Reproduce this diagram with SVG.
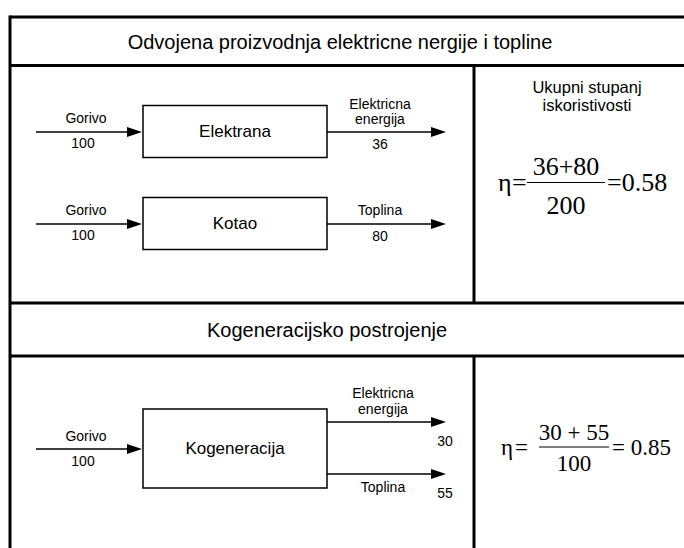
<svg xmlns="http://www.w3.org/2000/svg" width="684" height="548" viewBox="0 0 684 548">
<style>
.frame{stroke:#000;stroke-width:3;fill:none}
.box{stroke:#000;stroke-width:1.5;fill:#fff}
.conn{stroke:#000;stroke-width:1.5;fill:none}
.s{font-family:"Liberation Sans",Arial,sans-serif;font-size:14px;fill:#000}
.u{font-family:"Liberation Sans",Arial,sans-serif;font-size:16.5px;fill:#000;text-anchor:middle}
.m{font-family:"Liberation Sans",Arial,sans-serif;font-size:17px;fill:#000;text-anchor:middle}
.h{font-family:"Liberation Sans",Arial,sans-serif;font-size:20px;fill:#000;text-anchor:middle}
.f1{font-family:"Liberation Serif","Times New Roman",serif;font-size:26px;fill:#000}
.f2{font-family:"Liberation Serif","Times New Roman",serif;font-size:23px;fill:#000}
.c{text-anchor:middle}
</style>
<defs>
<marker id="arr" markerUnits="userSpaceOnUse" markerWidth="16" markerHeight="12" refX="0" refY="5" orient="auto" overflow="visible">
<path d="M0,0 L15,5 L0,10 Z" fill="#000"/>
</marker>
</defs>
<rect width="684" height="548" fill="#fff"/>
<g id="frame">
<line class="frame" x1="10" y1="17" x2="684" y2="17"/>
<line class="frame" x1="10" y1="15.5" x2="10" y2="548"/>
<line class="frame" x1="10" y1="65.5" x2="684" y2="65.5"/>
<line class="frame" x1="10" y1="303" x2="684" y2="303"/>
<line class="frame" x1="10" y1="356" x2="684" y2="356"/>
<line class="frame" x1="474" y1="65.5" x2="474" y2="303"/>
<line class="frame" x1="474" y1="356" x2="474" y2="548"/>
<text class="h" x="340" y="49">Odvojena proizvodnja elektricne nergije i topline</text>
<text class="h" x="327" y="337">Kogeneracijsko postrojenje</text>
</g>
<g id="connectors">
<line class="conn" x1="36" y1="132" x2="127" y2="132" marker-end="url(#arr)"/>
<line class="conn" x1="327" y1="132" x2="431" y2="132" marker-end="url(#arr)"/>
<line class="conn" x1="36" y1="224" x2="127" y2="224" marker-end="url(#arr)"/>
<line class="conn" x1="327" y1="224" x2="431" y2="224" marker-end="url(#arr)"/>
<line class="conn" x1="36" y1="449" x2="127" y2="449" marker-end="url(#arr)"/>
<line class="conn" x1="327" y1="422" x2="431" y2="422" marker-end="url(#arr)"/>
<line class="conn" x1="327" y1="474" x2="431" y2="474" marker-end="url(#arr)"/>
<text class="s c" x="86" y="123">Gorivo</text>
<text class="s c" x="83" y="148">100</text>
<text class="s c" x="380" y="109">Elektricna</text>
<text class="s c" x="380" y="124">energija</text>
<text class="s c" x="380" y="149">36</text>
<text class="s c" x="86" y="215">Gorivo</text>
<text class="s c" x="83" y="240">100</text>
<text class="s c" x="380" y="215">Toplina</text>
<text class="s c" x="380" y="241">80</text>
<text class="s c" x="86" y="441">Gorivo</text>
<text class="s c" x="83" y="466">100</text>
<text class="s c" x="383" y="398">Elektricna</text>
<text class="s c" x="383" y="414">energija</text>
<text class="s c" x="445" y="446">30</text>
<text class="s c" x="383" y="492">Toplina</text>
<text class="s c" x="445" y="498">55</text>
</g>
<g id="elektrana">
<rect class="box" x="143" y="105.5" width="184" height="52"/>
<text class="m" x="235" y="137">Elektrana</text>
</g>
<g id="kotao">
<rect class="box" x="143" y="197.5" width="184" height="52"/>
<text class="m" x="235" y="229">Kotao</text>
</g>
<g id="kogeneracija">
<rect class="box" x="143" y="409" width="184" height="79"/>
<text class="m" x="235" y="454">Kogeneracija</text>
</g>
<g id="stupanj1">
<text class="u" x="587" y="93">Ukupni stupanj</text>
<text class="u" x="587" y="111">iskoristivosti</text>
<text class="f1" x="498" y="191">η</text>
<text class="f1" x="512" y="191">=</text>
<line x1="527" y1="182.5" x2="605" y2="182.5" stroke="#000" stroke-width="1"/>
<text class="f1 c" x="566" y="175">36+80</text>
<text class="f1 c" x="566" y="214">200</text>
<text class="f1" x="607" y="191">=0.58</text>
</g>
<g id="stupanj2">
<text class="f2" x="501" y="455">η</text>
<text class="f2" x="515" y="455">=</text>
<line x1="539" y1="447" x2="609" y2="447" stroke="#000" stroke-width="1"/>
<text class="f2 c" x="574" y="440" xml:space="preserve">30 + 55</text>
<text class="f2 c" x="574" y="471">100</text>
<text class="f2" x="612" y="455">= 0.85</text>
</g>
</svg>
